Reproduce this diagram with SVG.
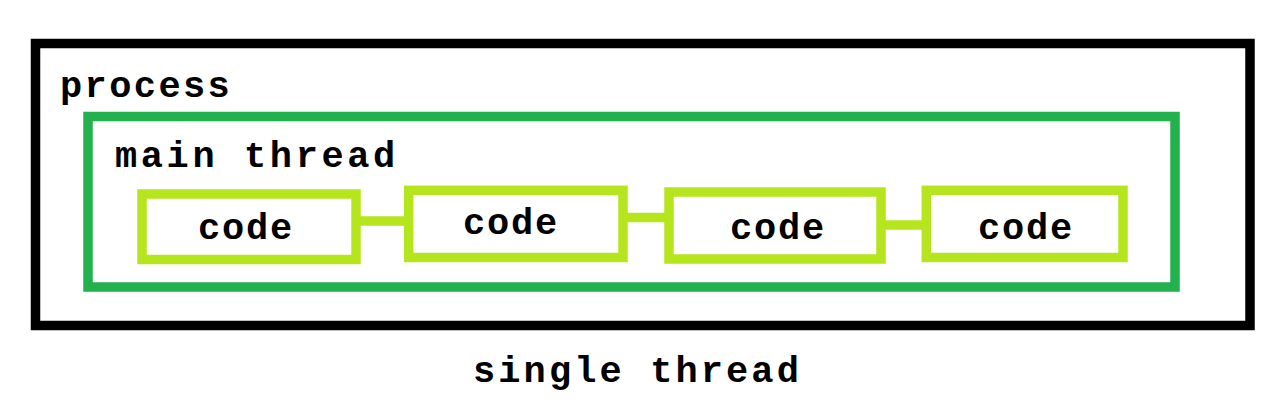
<svg xmlns="http://www.w3.org/2000/svg" width="1280" height="405" viewBox="0 0 1280 405">
<style>
.lbl{font-family:"Liberation Mono","DejaVu Sans Mono",monospace;font-weight:bold;font-size:37px;fill:#000}
.code{fill:#fff;stroke:#b5e61d;stroke-width:9.5}
.conn{stroke:#b5e61d;stroke-width:9.5;fill:none}
</style>
<rect width="1280" height="405" fill="#fff"/>
<g id="process">
<rect x="35.5" y="43.5" width="1214.5" height="282" fill="none" stroke="#000" stroke-width="9.5"/>
<text class="lbl" x="60" y="97" letter-spacing="2.4">process</text>
</g>
<g id="main-thread">
<rect x="88" y="116.5" width="1087" height="170.5" fill="none" stroke="#22b14c" stroke-width="9.5"/>
<text class="lbl" x="115" y="167" letter-spacing="3.6">main thread</text>
</g>
<g id="connectors">
<line class="conn" x1="356" y1="221" x2="409" y2="221"/>
<line class="conn" x1="623" y1="217.5" x2="669" y2="217.5"/>
<line class="conn" x1="881" y1="225" x2="926" y2="225"/>
</g>
<g id="code1">
<rect class="code" x="142" y="194" width="214" height="65.5"/>
<text class="lbl" x="198" y="239" letter-spacing="1.8">code</text>
</g>
<g id="code2">
<rect class="code" x="408.7" y="190.3" width="214.3" height="67.2"/>
<text class="lbl" x="463" y="234" letter-spacing="1.8">code</text>
</g>
<g id="code3">
<rect class="code" x="669" y="192" width="212" height="67"/>
<text class="lbl" x="730" y="239" letter-spacing="1.8">code</text>
</g>
<g id="code4">
<rect class="code" x="926.3" y="190.3" width="196.7" height="67.2"/>
<text class="lbl" x="978" y="239" letter-spacing="1.8">code</text>
</g>
<g id="caption">
<text class="lbl" x="473" y="382" letter-spacing="3.1">single thread</text>
</g>
</svg>
